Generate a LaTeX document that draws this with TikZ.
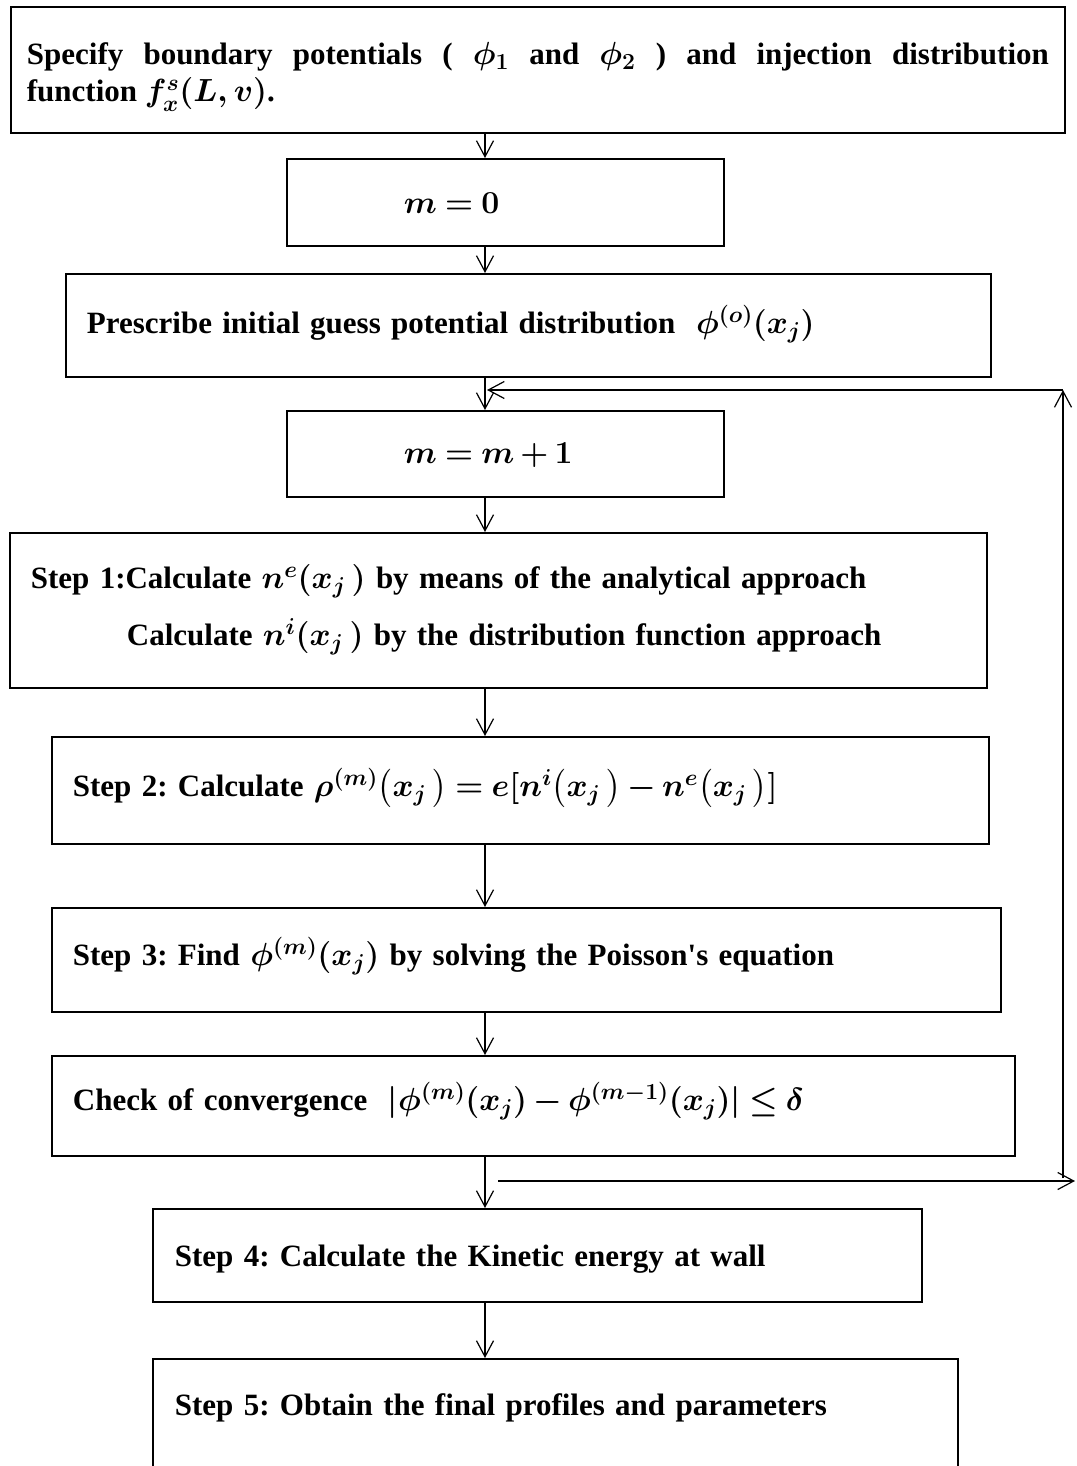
\RequirePackage{fix-cm}
\documentclass[tikz,border=0pt]{standalone}
\usepackage{amsmath,amssymb}
\usepackage{fontspec}
\setmainfont{Liberation Serif}
\DeclareMathSizes{31}{32}{23}{17}
\usetikzlibrary{arrows.meta}
\newcommand\flowfont{\fontsize{31}{37}\selectfont\bfseries\boldmath\frenchspacing
    \thickmuskip=4mu\relax\medmuskip=3mu\relax}

\begin{document}
\begin{tikzpicture}[x=1pt,y=-1pt,
    font=\flowfont,
    every node/.style={draw,rectangle,line width=1.8pt,anchor=north west,inner ysep=0pt,align=left},
    flow/.style={line width=1.2pt,-{Straight Barb[length=16pt,width=17pt,line width=1.2pt]}}]

    \useasboundingbox (0,0) rectangle (1076,1466);

    \node[text width=1022pt,inner xsep=16pt,text height=58pt,text depth=68pt,align=justify] (spec) at (10,6)
        {Specify boundary potentials ( $\phi_1$ and $\phi_2$ ) and injection distribution\linebreak function $f^{s}_{x}(L,v)$.};
    \node[text width=203pt,inner xsep=117pt,text height=55pt,text depth=32pt] (m0) at (286,158) {$m=0$};
    \node[text width=883pt,inner xsep=21pt,text height=60pt,text depth=43pt] (pres) at (65,273)
        {Prescribe initial guess potential distribution \ $\phi^{(o)}(x_j)$};
    \node[text width=203pt,inner xsep=117pt,text height=53pt,text depth=33pt] (m1) at (286,410) {$m=m+1$};
    \node[text width=935pt,inner xsep=21pt,text height=56pt,text depth=99pt] (s1) at (9,532)
        {Step 1:Calculate $n^{e}(x_j\,)$ by means of the analytical approach\\[20pt]
         \hspace*{96pt}Calculate $n^{i}(x_j\,)$ by the distribution function approach};
    \node[text width=895pt,inner xsep=21pt,text height=60pt,text depth=47pt] (s2) at (51,736)
        {Step 2: Calculate $\rho^{(m)}\bigl(x_j\,\bigr)=e[n^{i}\bigl(x_j\,\bigr)-n^{e}\bigl(x_j\,\bigr)]$};
    \node[text width=907pt,inner xsep=21pt,text height=58pt,text depth=46pt] (s3) at (51,907)
        {Step 3: Find $\phi^{(m)}(x_j)$ by solving the Poisson\textquotesingle s equation};
    \node[text width=921pt,inner xsep=21pt,text height=55pt,text depth=45pt] (chk) at (51,1055)
        {Check of convergence \ $|\phi^{(m)}(x_j)-\phi^{(m-1)}(x_j)|\leq\delta$};
    \node[text width=725pt,inner xsep=22pt,text height=58pt,text depth=35pt] (s4) at (152,1208)
        {Step 4: Calculate the Kinetic energy at wall};
    \node[text width=761pt,inner xsep=22pt,text height=57pt,text depth=65pt] (s5) at (152,1358)
        {Step 5: Obtain the final profiles and parameters};

    \coordinate (ax) at (485,0);
    \foreach \a/\b in {spec/m0,m0/pres,pres/m1,m1/s1,s1/s2,s2/s3,s3/chk,chk/s4,s4/s5}
        \draw[flow] (\a.south -| ax) -- (\b.north -| ax);

    % loop back
    \coordinate (outA) at (498,1181);
    \coordinate (outB) at (1075,1181);
    \coordinate (upA) at (1063,1178);
    \coordinate (upB) at (1063,390);
    \coordinate (backB) at (487,390);
    \draw[flow] (outA) -- (outB);
    \draw[flow] (upA) -- (upB);
    \draw[flow] (upB) -- (backB);
\end{tikzpicture}
\end{document}
